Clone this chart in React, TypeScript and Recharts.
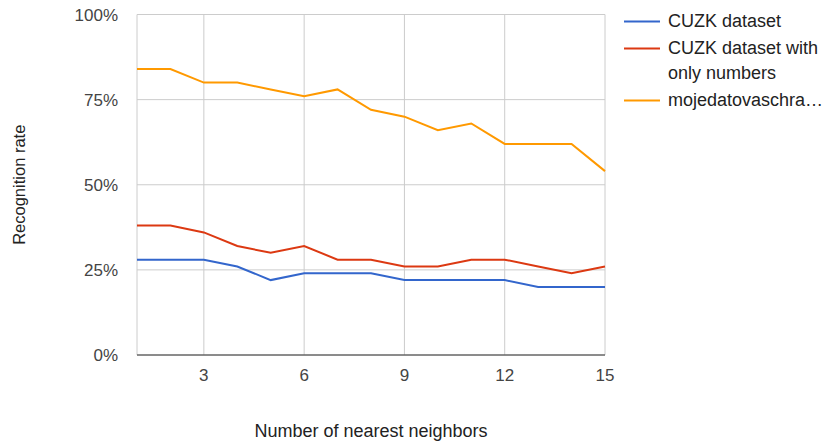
import React from 'react';
import { LineChart, Line, XAxis, YAxis, CartesianGrid, Label } from 'recharts';

// Number of nearest neighbours (k) on the x axis
const neighbors = [1, 2, 3, 4, 5, 6, 7, 8, 9, 10, 11, 12, 13, 14, 15];

// Recognition rate (%) per dataset
const cuzkDataset = [28, 28, 28, 26, 22, 24, 24, 24, 22, 22, 22, 22, 20, 20, 20];
const cuzkNumbersOnly = [38, 38, 36, 32, 30, 32, 28, 28, 26, 26, 28, 28, 26, 24, 26];
const mojedatovaschranka = [84, 84, 80, 80, 78, 76, 78, 72, 70, 66, 68, 62, 62, 62, 54];

const xTicks = [3, 6, 9, 12, 15];
const yTicks = [0, 25, 50, 75, 100];

const series = [
  { key: 'cuzk', name: ['CUZK dataset'], color: '#3366cc', values: cuzkDataset },
  { key: 'cuzkNum', name: ['CUZK dataset with', 'only numbers'], color: '#dc3912', values: cuzkNumbersOnly },
  { key: 'moje', name: ['mojedatovaschra…'], color: '#ff9900', values: mojedatovaschranka },
];

const data = neighbors.map((k, i) => {
  const row: Record<string, number> = { k };
  series.forEach((s) => {
    row[s.key] = s.values[i];
  });
  return row;
});

const FONT = '"Liberation Sans", Arial, sans-serif';

function ChartLegend() {
  return (
    <div
      style={{
        position: 'absolute',
        left: 624,
        top: 9,
        fontFamily: FONT,
        fontSize: 18,
        color: '#222',
        lineHeight: '25px',
      }}
    >
      {series.map((s) => (
        <div key={s.key} style={{ display: 'flex', alignItems: 'flex-start', marginBottom: 2 }}>
          <svg width={36} height={25} style={{ flex: 'none' }}>
            <line x1={0} x2={36} y1={12.5} y2={12.5} stroke={s.color} strokeWidth={2} />
          </svg>
          <div style={{ marginLeft: 8 }}>
            {s.name.map((line) => (
              <div key={line}>{line}</div>
            ))}
          </div>
        </div>
      ))}
    </div>
  );
}

export default function App() {
  return (
    <div style={{ position: 'absolute', left: 0, top: 0, width: 823, height: 441, background: '#fff' }}>
      <LineChart
        width={823}
        height={441}
        data={data}
        margin={{ top: 14.5, right: 218, bottom: 0, left: 0 }}
      >
        <CartesianGrid stroke="#cccccc" strokeWidth={1} />
        <XAxis
          dataKey="k"
          type="number"
          domain={[1, 15]}
          ticks={xTicks}
          height={86}
          tickSize={0}
          tickMargin={14}
          axisLine={{ stroke: '#333333', strokeWidth: 1 }}
          tickLine={false}
          tick={{ fill: '#444444', fontSize: 17, fontFamily: FONT }}
        >
          <Label
            value="Number of nearest neighbors"
            position="insideBottom"
            offset={4}
            style={{ fill: '#222222', fontSize: 18, fontFamily: FONT }}
          />
        </XAxis>
        <YAxis
          type="number"
          domain={[0, 100]}
          ticks={yTicks}
          width={137}
          tickSize={0}
          tickMargin={19}
          axisLine={false}
          tickLine={false}
          tickFormatter={(v: number) => `${v}%`}
          tick={{ fill: '#444444', fontSize: 17, fontFamily: FONT }}
        >
          <Label
            value="Recognition rate"
            angle={-90}
            position="insideLeft"
            offset={19}
            style={{ fill: '#222222', fontSize: 16.5, fontFamily: FONT, textAnchor: 'middle' }}
          />
        </YAxis>
        {series.map((s) => (
          <Line
            key={s.key}
            dataKey={s.key}
            name={s.name.join(' ')}
            stroke={s.color}
            strokeWidth={2}
            dot={false}
            activeDot={false}
            isAnimationActive={false}
          />
        ))}
      </LineChart>
      <ChartLegend />
    </div>
  );
}
